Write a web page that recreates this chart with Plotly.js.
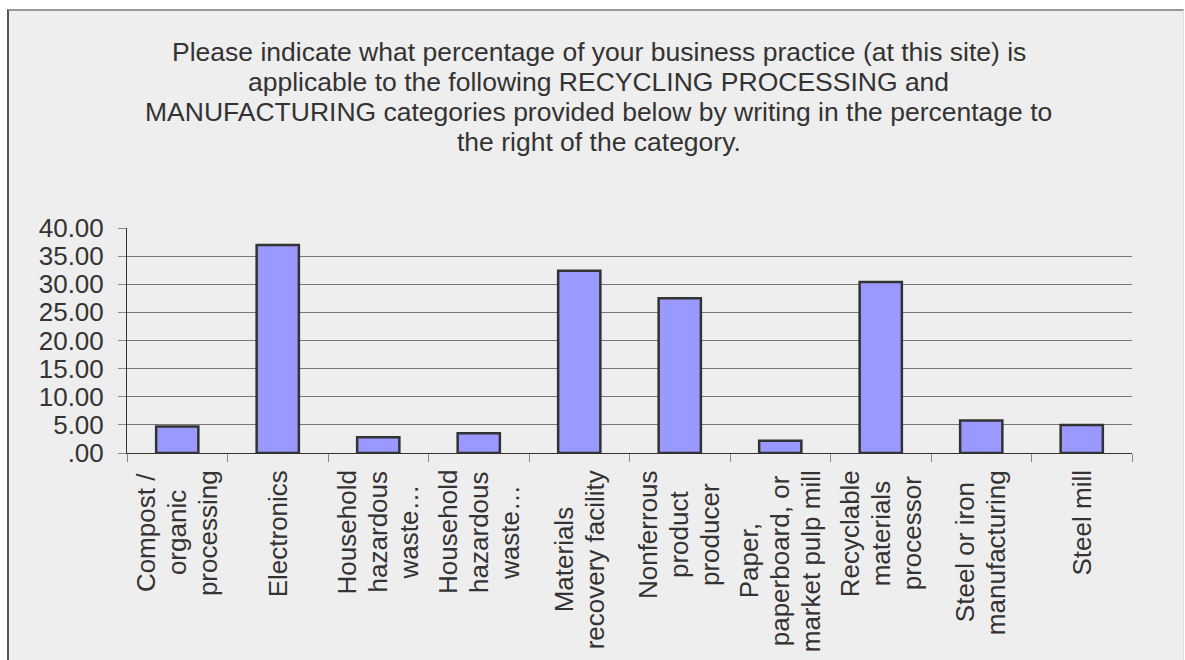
<!DOCTYPE html>
<html>
<head>
<meta charset="utf-8">
<script src="https://cdn.plot.ly/plotly-3.0.1.min.js"></script>
<style>
  html, body { margin: 0; padding: 0; background: #ffffff; }
  #frame {
    position: absolute; left: 7px; top: 9px;
    width: 1174px; height: 649px;
    border-left: 2px solid #555555;
    border-top: 2px solid #999999;
    border-right: 1px solid #dddddd;
    background: #eeeeee;
  }
  #chart { width: 1174px; height: 649px; }
</style>
</head>
<body>
<div id="frame"><div id="chart"></div></div>
<script>
// Categories (x-axis labels; lines as wrapped in the chart)
const categories = [
  "Compost /|organic|processing",
  "Electronics",
  "Household|hazardous|waste…",
  "Household|hazardous|waste… ",
  "Materials|recovery facility",
  "Nonferrous|product|producer",
  "Paper,|paperboard, or|market pulp mill",
  "Recyclable|materials|processor",
  "Steel or iron|manufacturing",
  "Steel mill"
];

// Percentages
const percentages = [4.7, 37.0, 2.8, 3.5, 32.4, 27.5, 2.2, 30.4, 5.8, 5.0];

// Y-axis ticks
const yTickValues = [0, 5, 10, 15, 20, 25, 30, 35, 40];
const yTickLabels = [".00", "5.00", "10.00", "15.00", "20.00", "25.00", "30.00", "35.00", "40.00"];

// Title lines
const titleLines = [
  "Please indicate what percentage of your business practice (at this site) is",
  "applicable to the following RECYCLING PROCESSING and",
  "MANUFACTURING categories provided below by writing in the percentage to",
  "the right of the category."
];

const FONT = "Liberation Sans, Arial, sans-serif";
const TEXT = "#333333";
const FS = 26;
const TITLE_FS = 26.5;

// geometry of the plot area (div pixels)
const W = 1174, H = 649;
const M = { l: 118, r: 51, t: 217, b: 207 };
const plotH = H - M.t - M.b;
const plotW = W - M.l - M.r;

const canvas = document.createElement("canvas");
const ctx = canvas.getContext("2d");
ctx.font = FS + "px 'Liberation Sans'";

const trace = {
  type: "bar",
  x: categories,
  y: percentages,
  width: 0.42,
  marker: { color: "#9999ff", line: { color: "#333333", width: 2.5 } },
  hoverinfo: "y"
};

const annotations = [];

// x-axis category labels, rotated, lines centred within a top-anchored block
categories.forEach(function (c) {
  const lines = c.split("|");
  const maxW = Math.max.apply(null, lines.map(function (l) { return ctx.measureText(l).width; }));
  const n = lines.length;
  lines.forEach(function (line, i) {
    annotations.push({
      x: c, xref: "x",
      y: 0, yref: "paper",
      xanchor: "center", yanchor: "middle",
      xshift: (i - (n - 1) / 2) * 31,
      yshift: -(17 + maxW / 2),
      text: line.trim(),
      textangle: -90,
      showarrow: false,
      font: { family: FONT, size: FS, color: TEXT }
    });
  });
});

// title lines
titleLines.forEach(function (line, i) {
  const yDiv = 41.4 + 30 * i;
  annotations.push({
    x: (589.5 - M.l) / plotW, xref: "paper", xanchor: "center",
    y: (H - M.b - yDiv) / plotH, yref: "paper", yanchor: "middle",
    text: line,
    showarrow: false,
    font: { family: FONT, size: TITLE_FS, color: TEXT }
  });
});

const layout = {
  width: W, height: H,
  paper_bgcolor: "#eeeeee",
  plot_bgcolor: "#eeeeee",
  margin: M,
  showlegend: false,
  bargap: 0.58,
  xaxis: {
    type: "category",
    range: [-0.5, 9.5],
    showticklabels: false,
    tickson: "boundaries",
    ticks: "outside",
    ticklen: 8,
    tickcolor: "#888888",
    showgrid: false,
    showline: true,
    linecolor: "#333333",
    linewidth: 1,
    zeroline: false,
    fixedrange: true
  },
  yaxis: {
    range: [0, 40],
    tickmode: "array",
    tickvals: yTickValues,
    ticktext: yTickLabels,
    ticks: "outside",
    ticklen: 8,
    tickcolor: "#888888",
    ticklabelstandoff: 9,
    tickfont: { family: FONT, size: FS, color: TEXT },
    showgrid: true,
    gridcolor: "#777777",
    gridwidth: 1,
    showline: true,
    linecolor: "#333333",
    linewidth: 1,
    zeroline: false,
    fixedrange: true
  },
  annotations: annotations
};

Plotly.newPlot("chart", [trace], layout, { displayModeBar: false, staticPlot: true });
</script>
</body>
</html>
